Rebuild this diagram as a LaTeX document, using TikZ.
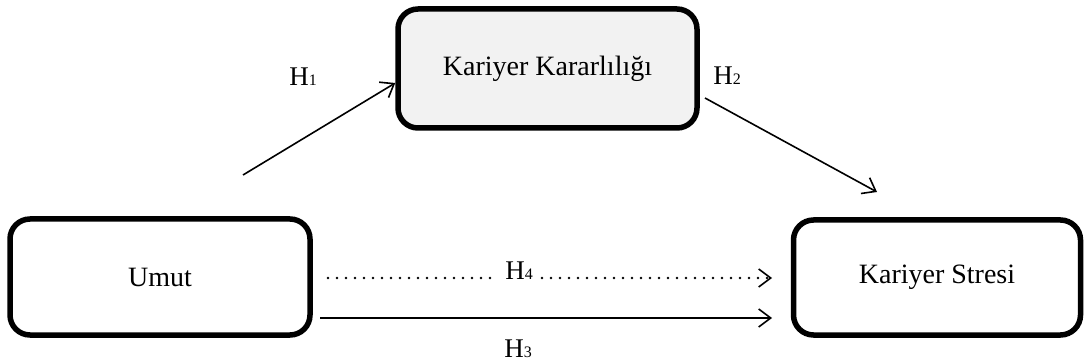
\documentclass[tikz,border=0pt]{standalone}
\usepackage{fontspec}
\setmainfont{Liberation Serif}
\usetikzlibrary{arrows.meta}
\begin{document}
\begin{tikzpicture}[x=1pt,y=-1pt,
  box/.style={draw=black, line width=5.5pt, rounded corners=20pt, inner sep=0pt,
    font=\fontsize{28}{32}\selectfont, align=center},
  conn/.style={line width=1.6pt, -{Straight Barb[length=12pt,width=18pt,line width=1.6pt]}},
  dotconn/.style={line width=2.8pt, line cap=round, dash pattern=on 0pt off 9pt,
    -{Straight Barb[length=12pt,width=18pt,line width=1.6pt]}},
  dotline/.style={line width=2.8pt, line cap=round, dash pattern=on 0pt off 9pt},
  lbl/.style={font=\fontsize{27}{30}\selectfont, inner sep=0pt}]
\useasboundingbox (0,0) rectangle (1084,363);
\newcommand{\Hsub}[1]{H{\fontsize{16}{18}\selectfont #1}}
% boxes
\node[box, fill={rgb,255:red,242;green,242;blue,242}, minimum width=299pt, minimum height=119pt]
  (kk) at (547.5,68.5) {Kariyer Kararlılığı};
\node[box, minimum width=300pt, minimum height=116pt] (um) at (160,277) {Umut};
\node[box, minimum width=287pt, minimum height=115pt] (ks) at (937,277.5) {Kariyer Stresi};
% free ends
\coordinate (h1s) at (243,175);
\coordinate (h2e) at (877,192);
\coordinate (h2s) at (705,98);
\coordinate (h4s) at (328,278);
\coordinate (h4a) at (494,278);
\coordinate (h4b) at (542,278);
\coordinate (h4e) at (772,278);
\coordinate (h3s) at (320,318);
\coordinate (h3e) at (772,318);
% connectors
\draw[conn] (h1s) -- (kk.west |- 0,83);
\draw[conn] (h2s) -- (h2e);
\draw[dotline] (h4s) -- (h4a);
\draw[dotconn] (h4b) -- (h4e);
\draw[conn] (h3s) -- (h3e);
% labels
\node[lbl] (l1) at (303,77) {\Hsub{1}};
\node[lbl] (l2) at (727,76) {\Hsub{2}};
\node[lbl] (l4) at (519,271) {\Hsub{4}};
\node[lbl] (l3) at (518,349) {\Hsub{3}};
\end{tikzpicture}
\end{document}
